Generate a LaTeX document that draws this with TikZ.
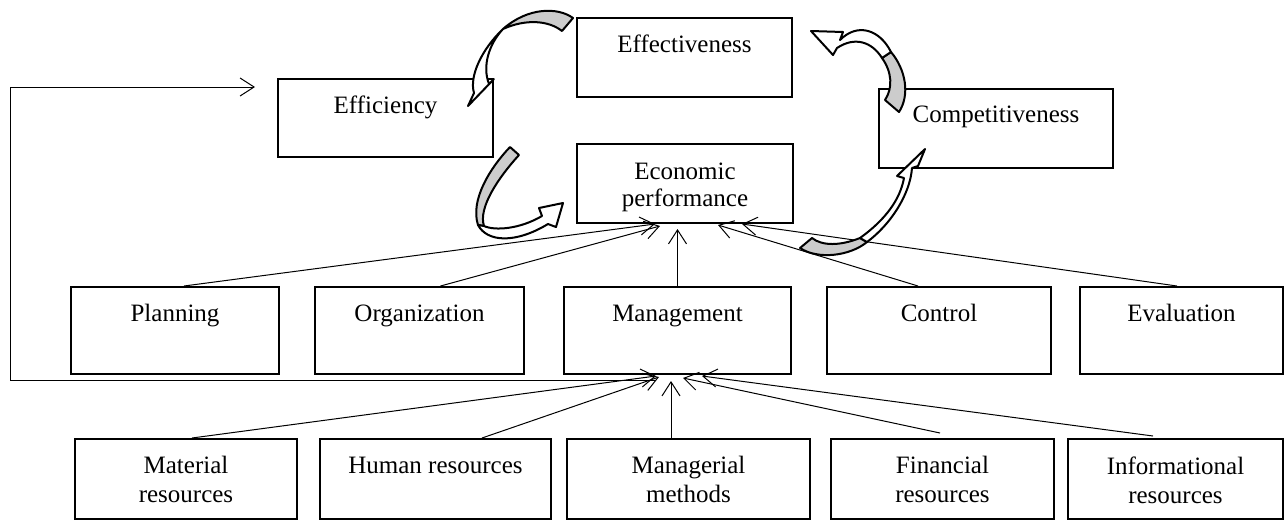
\documentclass[tikz,border=0pt]{standalone}
\usepackage{fontspec}
\setmainfont{Liberation Serif}
\usetikzlibrary{arrows.meta,calc}
\definecolor{bandgray}{RGB}{204,204,204}
\begin{document}
\begin{tikzpicture}[x=0.5pt,y=-0.5pt,
  box/.style={draw, line width=1pt, rectangle, inner sep=0pt},
  lbl/.style={font=\fontsize{12.5}{14}\selectfont, inner sep=0pt, align=center, anchor=base},
  lbltwo/.style={font=\fontsize{12.5}{14}\selectfont, inner sep=0pt, align=center, anchor=north},
  conn/.style={line width=0.5pt, -{Straight Barb[length=7pt,width=9pt,line width=0.5pt]}},
  back/.style={draw, line width=1pt, fill=bandgray, line join=round},
  front/.style={draw, line width=1pt, fill=white, line join=round}]
\fill[white] (0,0) rectangle (1284,521);
\useasboundingbox (0,0) rectangle (1284,521);

% upper level
\node[box, minimum width=107.5pt, minimum height=39.5pt] (effe) at (684.5,57.5) {};
\node[lbl] (effeT) at (684.5,52) {Effectiveness};
\node[box, minimum width=107.5pt, minimum height=39pt] (effi) at (385.5,118) {};
\node[lbl] (effiT) at (385.5,113) {Efficiency};
\node[box, minimum width=117pt, minimum height=39.5pt] (comp) at (996,128.5) {};
\node[lbl] (compT) at (996,122.5) {Competitiveness};
\node[box, minimum width=108pt, minimum height=39.5pt] (ep) at (685,183.5) {};
\node[lbltwo, font=\fontsize{12.5}{13.5}\selectfont] (epT) at (685,163) {Economic\\performance};

% functions
\node[box, minimum width=104pt, minimum height=43.5pt] (plan) at (175,330.5) {};
\node[lbl] (planT) at (175,321.5) {Planning};
\node[box, minimum width=104.5pt, minimum height=43.5pt] (org) at (419.5,330.5) {};
\node[lbl] (orgT) at (419.5,321.5) {Organization};
\node[box, minimum width=113.5pt, minimum height=43.5pt] (mgmt) at (677.5,330.5) {};
\node[lbl] (mgmtT) at (677.5,321.5) {Management};
\node[box, minimum width=112pt, minimum height=43.5pt] (ctrl) at (939,330.5) {};
\node[lbl] (ctrlT) at (939,321.5) {Control};
\node[box, minimum width=101.5pt, minimum height=43.5pt] (eval) at (1181.5,330.5) {};
\node[lbl] (evalT) at (1181.5,321.5) {Evaluation};

% resources
\node[box, minimum width=111pt, minimum height=40pt] (mat) at (186,479) {};
\node[lbltwo, font=\fontsize{12.5}{14.5}\selectfont] (matT) at (186,456) {Material\\resources};
\node[box, minimum width=115.5pt, minimum height=40pt] (hum) at (435.5,479) {};
\node[lbl] (humT) at (435.5,473) {Human resources};
\node[box, minimum width=121.5pt, minimum height=40pt] (mm) at (688.5,479) {};
\node[lbltwo, font=\fontsize{12.5}{14.5}\selectfont] (mmT) at (688.5,456) {Managerial\\methods};
\node[box, minimum width=111.5pt, minimum height=40pt] (fin) at (942.5,479) {};
\node[lbltwo, font=\fontsize{12.5}{14.5}\selectfont] (finT) at (942.5,456) {Financial\\resources};
\node[box, minimum width=107.5pt, minimum height=40pt] (info) at (1175.5,479) {};
\node[lbltwo, font=\fontsize{12.5}{14.5}\selectfont] (infoT) at (1175.5,456) {Informational\\resources};

% functions -> economic performance
\draw[conn] ($(plan.north)+(9,0)$) -- ($(ep.south)+(-30,0)$);
\draw[conn] ($(org.north)+(21,0)$) -- ($(ep.south)+(-25,2)$);
\draw[conn] (mgmt.north) -- ($(mgmt.north |- ep.south)+(0,5)$);
\draw[conn] ($(ctrl.north)+(-21,0)$) -- ($(ep.south)+(33,1)$);
\draw[conn] ($(eval.north)+(-4.5,0)$) -- ($(ep.south)+(57,0)$);

% resources -> management
\draw[conn] ($(mat.north)+(6,0)$) -- ($(mgmt.south)+(-21.5,1)$);
\draw[conn] ($(hum.north)+(46.5,0)$) -- ($(mgmt.south)+(-18.5,2)$);
\draw[conn] ($(mm.north)+(-17.5,0)$) -- ($(mgmt.south)+(-6.5,6)$);
\draw[conn] ($(fin.north)+(-2.5,-5)$) -- ($(mgmt.south)+(5.5,3)$);
\draw[conn] ($(info.north)+(-22.5,-2)$) -- ($(mgmt.south)+(24.5,1)$);

% feedback loop to efficiency
\coordinate (fbTurn) at (10,87);
\coordinate (fbEnd) at (255,87);
\draw[conn] ($(mgmt.south)+(-21.5,5)$) -| (fbTurn) -- (fbEnd);

% curved arrow: effectiveness -> efficiency
\draw[back] (573,18) .. controls (558,7) and (528,7) .. (503,29)
  .. controls (525,19) and (548,20) .. (562,31) -- cycle;
\draw[front] (503,29) .. controls (482,49) and (469,76) .. (474,93)
  -- (468,106) -- (494,79) -- (489,84)
  .. controls (482,66) and (489,44) .. (503,29) -- cycle;

% curved arrow: efficiency -> economic performance
\draw[back] (510,147) -- (519,155) .. controls (498,178) and (478,208) .. (484,226)
  -- (478,225) .. controls (470,200) and (490,168) .. (510,147) -- cycle;
\draw[front] (478,225) .. controls (487,242) and (515,244) .. (548,224)
  -- (556,227) -- (563,203) -- (539,208) -- (542,216)
  .. controls (520,229) and (495,231) .. (484,226) -- cycle;

% curved arrow: competitiveness -> effectiveness
\draw[back] (885,100) -- (899,112) .. controls (910,95) and (906,70) .. (891,52)
  -- (882,58) .. controls (892,72) and (893,88) .. (885,100) -- cycle;
\draw[front] (891,52) .. controls (880,30) and (858,22) .. (840,40)
  -- (843,32) -- (811,31) -- (833,55) -- (837,48)
  .. controls (855,36) and (872,42) .. (882,58) -- cycle;

% curved arrow: economic performance -> competitiveness
\draw[back] (800,248) -- (812,238) .. controls (822,246) and (840,246) .. (860,238)
  -- (867,242) .. controls (850,256) and (818,260) .. (800,248) -- cycle;
\draw[front] (860,238) .. controls (885,220) and (900,200) .. (904,178)
  -- (897,176) -- (925,149) -- (918,166) -- (912,168)
  .. controls (910,195) and (890,225) .. (867,242) -- cycle;
\end{tikzpicture}
\end{document}
